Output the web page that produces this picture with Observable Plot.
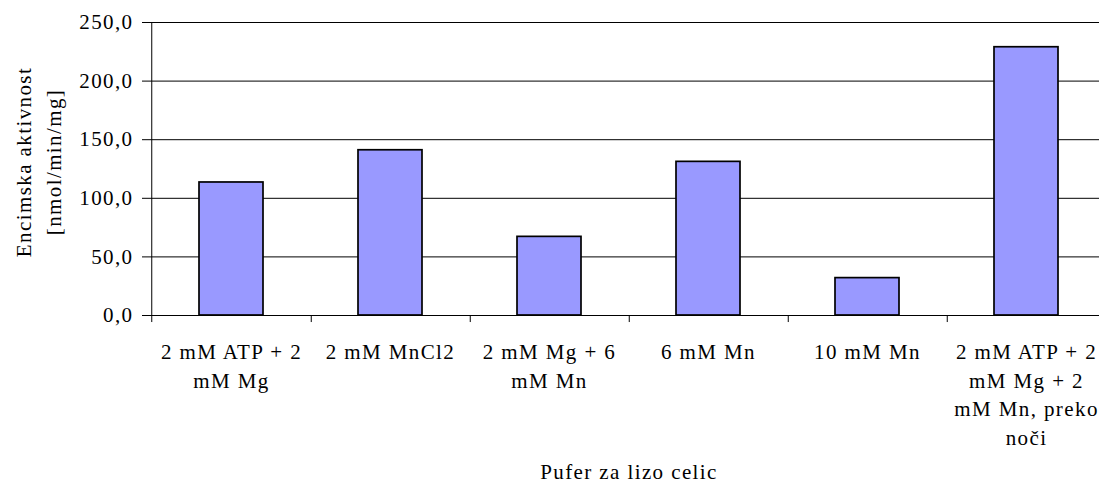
<!DOCTYPE html>
<html>
<head>
<meta charset="utf-8">
<script src="https://cdn.jsdelivr.net/npm/d3@7"></script>
<script src="https://cdn.jsdelivr.net/npm/@observablehq/plot@0.6"></script>
<style>
  html, body { margin: 0; padding: 0; background: #fff; overflow: hidden; }
  svg text { letter-spacing: 1.4px; }
</style>
</head>
<body>
<div id="chart"></div>
<script>
const categories = [
  "2 mM ATP + 2 mM Mg",
  "2 mM MnCl2",
  "2 mM Mg + 6 mM Mn",
  "6 mM Mn",
  "10 mM Mn",
  "2 mM ATP + 2 mM Mg + 2 mM Mn, preko noči"
];
const tickLabels = [
  "2 mM ATP + 2\nmM Mg",
  "2 mM MnCl2",
  "2 mM Mg + 6\nmM Mn",
  "6 mM Mn",
  "10 mM Mn",
  "2 mM ATP + 2\nmM Mg + 2\nmM Mn, preko\nnoči"
];
const activity = [113.5, 141.0, 67.1, 131.1, 31.9, 228.9];
const yTicks = [0, 50, 100, 150, 200, 250];
const xTitle = "Pufer za lizo celic";
const yTitle = "Encimska aktivnost\n[nmol/min/mg]";

const data = categories.map((c, i) => ({buffer: c, activity: activity[i], label: tickLabels[i]}));

const W = 1110, ML = 150, MR = 3;
const step = (W - ML - MR) / categories.length;
const fmt = d => d.toFixed(1).replace(".", ",");
const FONT = "'Liberation Serif', 'Times New Roman', serif";
const FS = 21;

const chart = Plot.plot({
  width: W,
  height: 500,
  marginLeft: ML,
  marginRight: MR,
  marginTop: 22,
  marginBottom: 185,
  style: {fontFamily: FONT, fontSize: FS + "px", color: "#000", background: "#fff", maxWidth: "none"},
  x: {type: "band", domain: categories, paddingInner: 0.6, paddingOuter: 0.3, axis: null},
  y: {domain: [0, 250], axis: null},
  marks: [
    Plot.ruleY(yTicks, {y: d => d, stroke: "#000", strokeWidth: 1}),
    Plot.barY(data, {x: "buffer", y: "activity", fill: "#9999FF", stroke: "#000", strokeWidth: 1.7}),
    Plot.ruleX([categories[0]], {x: d => d, dx: -step / 2, y1: -6, y2: 250, stroke: "#000"}),
    Plot.ruleX(categories, {x: d => d, dx: step / 2, y1: 0, y2: -6, stroke: "#000"}),
    Plot.axisY({ticks: yTicks, tickSize: 8, tickPadding: 9, tickFormat: fmt, label: null, stroke: "#000", fill: "#000", fontFamily: FONT, fontSize: FS}),
    Plot.text(data, {x: "buffer", y: () => 0, text: "label", lineAnchor: "top", dy: 23, lineHeight: 1.37, fill: "#000", fontFamily: FONT, fontSize: FS}),
    Plot.text([xTitle], {frameAnchor: "bottom", text: d => d, lineAnchor: "top", dy: 149, fill: "#000", fontFamily: FONT, fontSize: FS}),
    Plot.text([yTitle], {frameAnchor: "left", text: d => d, rotate: -90, dx: -114, dy: -7, textAnchor: "middle", lineAnchor: "middle", lineHeight: 1.4, fill: "#000", fontFamily: FONT, fontSize: FS})
  ]
});
chart.style.maxWidth = "none";
document.getElementById("chart").appendChild(chart);
</script>
</body>
</html>
